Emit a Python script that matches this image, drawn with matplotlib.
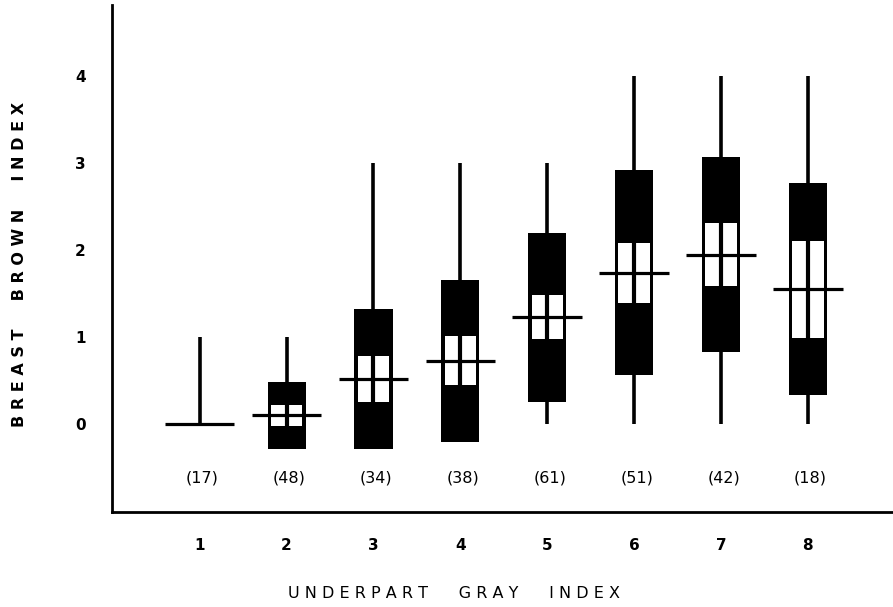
import matplotlib
matplotlib.use('Agg')

from matplotlib import pyplot as plt
from matplotlib.patches import Rectangle

# Dice-Leraas style diagram: range line, mean, +-1 SD (black), +-2 SE (white)
gray_index = [1, 2, 3, 4, 5, 6, 7, 8]
sample_n = [17, 48, 34, 38, 61, 51, 42, 18]
means = [0.0, 0.10, 0.52, 0.73, 1.23, 1.74, 1.95, 1.55]
sds = [0.0, 0.39, 0.81, 0.93, 0.97, 1.18, 1.12, 1.22]
two_se = [0.0, 0.125, 0.26, 0.285, 0.25, 0.345, 0.36, 0.555]
mins = [0, 0, 0, 0, 0, 0, 0, 0]
maxs = [1, 1, 3, 3, 3, 4, 4, 4]


def spaced(s, sep=' '):
    return sep.join(s)


def main():
    fig = plt.figure(figsize=(8.93, 6.07), dpi=100)
    ax = fig.add_axes([112 / 893, 1 - 512 / 607, 1 - 112 / 893, (512 - 5) / 607])

    box_w = 0.44
    white_w = 0.36
    mean_w = 0.80
    line_w = 2.6

    for x, m, sd, se, lo, hi, n in zip(gray_index, means, sds, two_se, mins, maxs, sample_n):
        ax.plot([x, x], [lo, hi], color='black', linewidth=line_w, solid_capstyle='butt', zorder=2)
        if sd > 0:
            ax.add_patch(Rectangle((x - box_w / 2, m - sd), box_w, 2 * sd,
                                   facecolor='black', edgecolor='none', zorder=3))
            ax.add_patch(Rectangle((x - white_w / 2, m - se), white_w, 2 * se,
                                   facecolor='white', edgecolor='none', zorder=4))
            ax.plot([x, x], [m - se, m + se], color='black', linewidth=line_w + 0.4,
                    solid_capstyle='butt', zorder=5)
        ax.plot([x - mean_w / 2, x + mean_w / 2], [m, m], color='black', linewidth=2.3,
                solid_capstyle='butt', zorder=6)
        ax.text(x + 0.03, -0.62, f'({n})', ha='center', va='center', fontsize=11.5)

    ax.set_xlim(-0.01, 8.98)
    ax.set_ylim(-1.01, 4.82)
    ax.set_xticks(gray_index)
    ax.set_xticklabels([str(g) for g in gray_index], fontsize=11, fontweight='bold')
    ax.set_yticks([0, 1, 2, 3, 4])
    ax.set_yticklabels(['0', '1', '2', '3', '4'], fontsize=11, fontweight='bold')
    ax.tick_params(axis='both', length=0)
    ax.tick_params(axis='x', pad=19)
    ax.tick_params(axis='y', pad=19)

    for side in ['top', 'right']:
        ax.spines[side].set_visible(False)
    for side in ['left', 'bottom']:
        ax.spines[side].set_linewidth(2.0)

    gap = ' ' * 6
    fig.text(20 / 893, 1 - 264 / 607,
             spaced('BREAST') + ' ' * 5 + spaced('BROWN') + ' ' * 5 + spaced('INDEX'),
             rotation=90, ha='center', va='center', fontsize=11.5, fontweight='bold')
    fig.text(454 / 893, 1 - 594 / 607,
             spaced('UNDERPART') + gap + spaced('GRAY') + gap + spaced('INDEX'),
             ha='center', va='center', fontsize=11.5)

    fig.savefig('out.png', dpi=100)


if __name__ == "__main__":
    main()
